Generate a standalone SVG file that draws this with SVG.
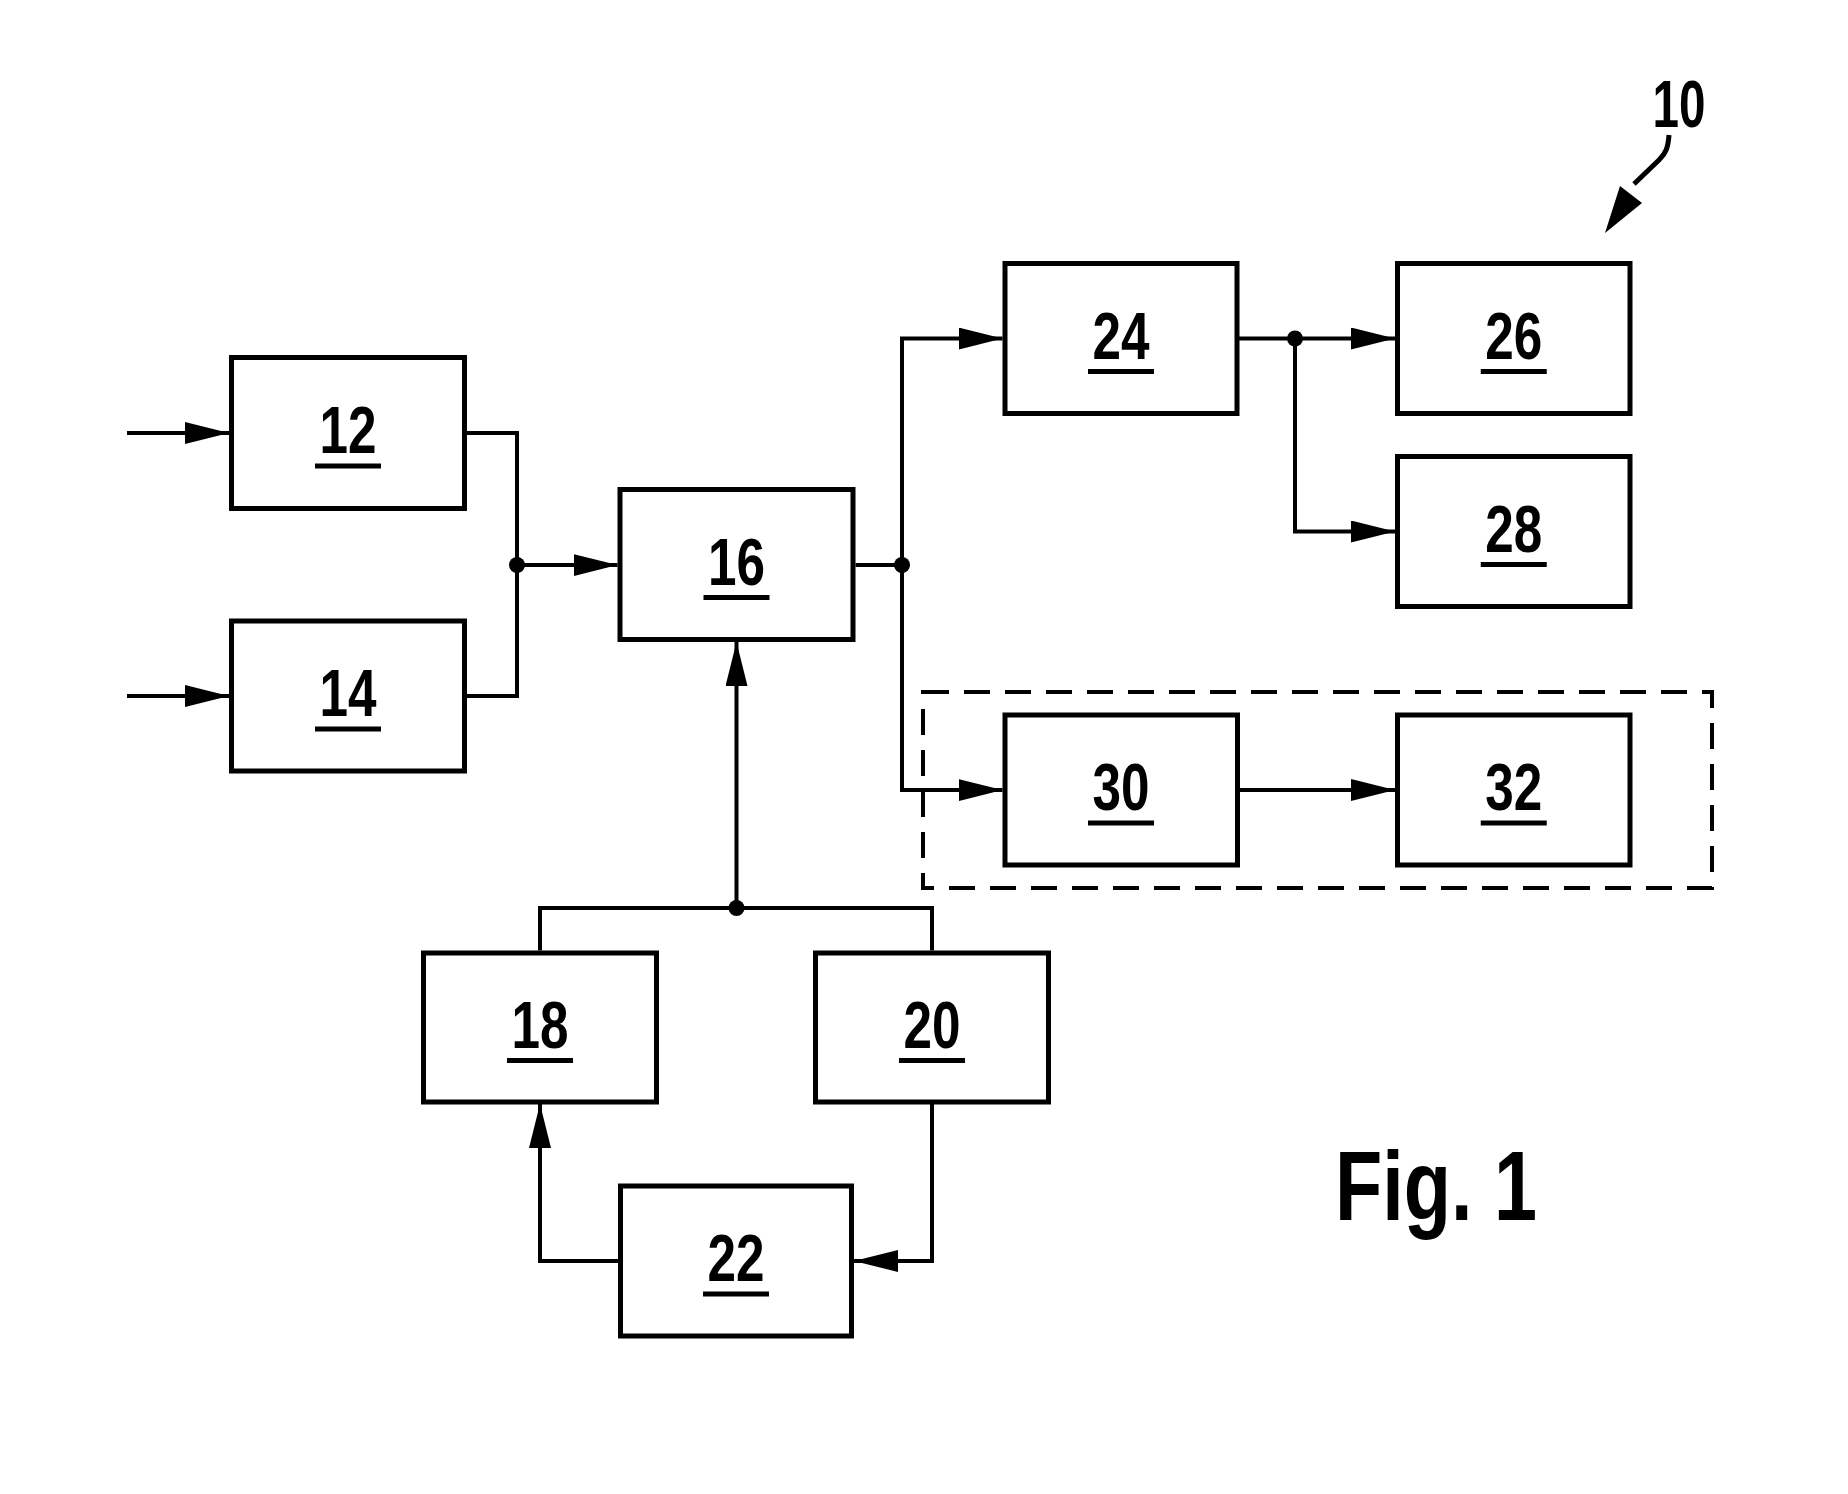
<svg xmlns="http://www.w3.org/2000/svg" width="1848" height="1494" viewBox="0 0 1848 1494">
<style>
.box{fill:#fff;stroke:#000;stroke-width:5}
.ln{fill:none;stroke:#000;stroke-width:4}
.dash{fill:none;stroke:#000;stroke-width:4;stroke-dasharray:26 15}
.lbl{font-family:"Liberation Sans",Arial,sans-serif;font-size:66px;font-weight:bold;text-anchor:middle;fill:#000}
.ul{fill:#000}
.dot{fill:#000}
</style>
<defs>
<marker id="arr" markerUnits="userSpaceOnUse" viewBox="0 0 44 22" refX="44" refY="11" markerWidth="44" markerHeight="22" orient="auto">
<path d="M0,0 L44,11 L0,22 z" fill="#000"/>
</marker>
</defs>
<rect x="0" y="0" width="1848" height="1494" fill="#fff"/>

<g id="connectors">
<path class="ln" d="M127,433 H229" marker-end="url(#arr)"/>
<path class="ln" d="M127,696 H229" marker-end="url(#arr)"/>
<path class="ln" d="M467,433 H517 V696 H467"/>
<path class="ln" d="M517,565 H617.5" marker-end="url(#arr)"/>
<path class="ln" d="M855.5,565 H902"/>
<path class="ln" d="M902,565 V338.5 H1002.5" marker-end="url(#arr)"/>
<path class="ln" d="M902,565 V790 H1002.5" marker-end="url(#arr)"/>
<path class="ln" d="M1239,338.5 H1395" marker-end="url(#arr)"/>
<path class="ln" d="M1295,338.5 V531.5 H1395" marker-end="url(#arr)"/>
<path class="ln" d="M1240,790 H1395" marker-end="url(#arr)"/>
<path class="ln" d="M540,950.5 V908 H932 V950.5"/>
<path class="ln" d="M736.5,908 V642" marker-end="url(#arr)"/>
<path class="ln" d="M932,1103.5 V1261 H854" marker-end="url(#arr)"/>
<path class="ln" d="M618,1261 H540 V1104" marker-end="url(#arr)"/>
<circle class="dot" cx="517" cy="565" r="8"/>
<circle class="dot" cx="902" cy="565" r="8"/>
<circle class="dot" cx="1295" cy="338.5" r="8"/>
<circle class="dot" cx="736.5" cy="908" r="8"/>
<path d="M1669,135 C1668,148 1666,153 1659,160 L1634,184" fill="none" stroke="#000" stroke-width="5"/>
<path d="M1605,233 L1620,186 L1642,203 z" fill="#000"/>
</g>

<g id="group-30-32">
<rect class="dash" x="923" y="692" width="789" height="196"/>
</g>

<g id="n12">
<rect class="box" x="231.5" y="357.5" width="233" height="151"/>
<text class="lbl" x="348" y="453" textLength="57" lengthAdjust="spacingAndGlyphs">12</text>
<rect class="ul" x="315" y="463.5" width="66" height="5"/>
</g>
<g id="n14">
<rect class="box" x="231.5" y="621" width="233" height="150"/>
<text class="lbl" x="348" y="716" textLength="57" lengthAdjust="spacingAndGlyphs">14</text>
<rect class="ul" x="315" y="726.5" width="66" height="5"/>
</g>
<g id="n16">
<rect class="box" x="620" y="489.5" width="233" height="150"/>
<text class="lbl" x="736.5" y="584.5" textLength="57" lengthAdjust="spacingAndGlyphs">16</text>
<rect class="ul" x="703.5" y="595" width="66" height="5"/>
</g>
<g id="n24">
<rect class="box" x="1005" y="263.5" width="232" height="150"/>
<text class="lbl" x="1121" y="358.5" textLength="57" lengthAdjust="spacingAndGlyphs">24</text>
<rect class="ul" x="1088" y="369" width="66" height="5"/>
</g>
<g id="n26">
<rect class="box" x="1397.5" y="263.5" width="232.5" height="150"/>
<text class="lbl" x="1513.75" y="358.5" textLength="57" lengthAdjust="spacingAndGlyphs">26</text>
<rect class="ul" x="1480.75" y="369" width="66" height="5"/>
</g>
<g id="n28">
<rect class="box" x="1397.5" y="456.5" width="232.5" height="150"/>
<text class="lbl" x="1513.75" y="551.5" textLength="57" lengthAdjust="spacingAndGlyphs">28</text>
<rect class="ul" x="1480.75" y="562" width="66" height="5"/>
</g>
<g id="n30">
<rect class="box" x="1005" y="715" width="232.5" height="150"/>
<text class="lbl" x="1121" y="810" textLength="57" lengthAdjust="spacingAndGlyphs">30</text>
<rect class="ul" x="1088" y="820.5" width="66" height="5"/>
</g>
<g id="n32">
<rect class="box" x="1397.5" y="715" width="232.5" height="150"/>
<text class="lbl" x="1513.75" y="810" textLength="57" lengthAdjust="spacingAndGlyphs">32</text>
<rect class="ul" x="1480.75" y="820.5" width="66" height="5"/>
</g>
<g id="n18">
<rect class="box" x="423.5" y="953" width="233" height="149"/>
<text class="lbl" x="540" y="1047.5" textLength="57" lengthAdjust="spacingAndGlyphs">18</text>
<rect class="ul" x="507" y="1058" width="66" height="5"/>
</g>
<g id="n20">
<rect class="box" x="815.5" y="953" width="233" height="149"/>
<text class="lbl" x="932" y="1047.5" textLength="57" lengthAdjust="spacingAndGlyphs">20</text>
<rect class="ul" x="899" y="1058" width="66" height="5"/>
</g>
<g id="n22">
<rect class="box" x="620.5" y="1186" width="231" height="150"/>
<text class="lbl" x="736" y="1281" textLength="57" lengthAdjust="spacingAndGlyphs">22</text>
<rect class="ul" x="703" y="1291.5" width="66" height="5"/>
</g>

<g id="ref10">
<text class="lbl" x="1679" y="127" textLength="53" lengthAdjust="spacingAndGlyphs">10</text>
</g>
<g id="caption">
<text x="1335" y="1220" font-family="Liberation Sans,Arial,sans-serif" font-weight="bold" font-size="99" textLength="202" lengthAdjust="spacingAndGlyphs">Fig. 1</text>
</g>
</svg>
